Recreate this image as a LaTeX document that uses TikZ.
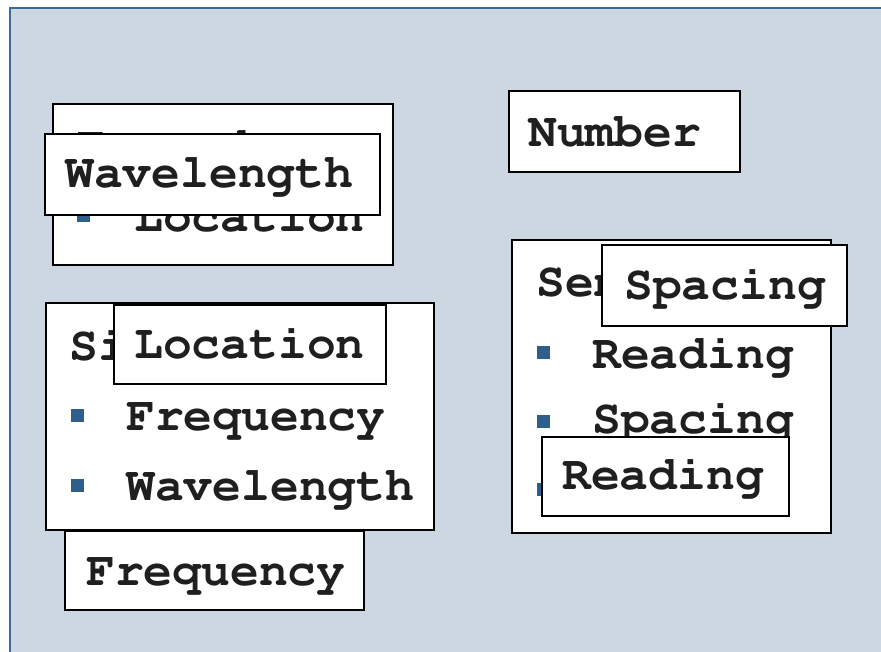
\documentclass[tikz,border=0pt]{standalone}
\usepackage[T1]{fontenc}
\usepackage{courier}
\definecolor{panel}{HTML}{CDD7E1}
\definecolor{framecol}{HTML}{3C6A9C}
\definecolor{bulletblue}{HTML}{2E5E8C}
\newcommand\cardfont{\fontsize{48}{57}\ttfamily\bfseries\selectfont}
\begin{document}
\begin{tikzpicture}[x=1pt,y=-1pt,
  card/.style={draw=black,line width=1.5pt,fill=white,inner sep=0pt,outer sep=0pt,anchor=north west},
  txt/.style={anchor=base west,inner sep=0pt,font=\cardfont,text=black!88},
  bul/.style={fill=bulletblue,draw=none,inner sep=0pt,outer sep=0pt,anchor=north west,minimum width=12.5pt,minimum height=12.5pt}]
\useasboundingbox (0,0) rectangle (881,652);
\fill[white] (0,0) rectangle (881,652);
\fill[panel] (9.5,8) rectangle (881,652);
\draw[framecol,line width=2pt] (9.5,652) -- (9.5,8) -- (881,8);

% upper left list
\node[card,minimum width=340pt,minimum height=161pt] (boxA) at (53,104) {};
\node[txt] (titleA) at (76,161) {Toward};
\node[bul] (bA1) at (77,210) {};
\node[txt] (itemA1) at (134,232) {Location};
\node[card,minimum width=335pt,minimum height=81pt] (lblWave) at (45,134) {};
\node[txt] (tWave) at (65,188) {Wavelength};

% lower left list
\node[card,minimum width=388pt,minimum height=227pt] (boxB) at (46,303) {};
\node[txt] (titleB) at (69,360) {Signal};
\node[bul] (bB1) at (71,409) {};
\node[bul] (bB2) at (71,479) {};
\node[txt] (itemB1) at (126,430) {Frequency};
\node[txt] (itemB2) at (126,500) {Wavelength};
\node[card,minimum width=272pt,minimum height=79pt] (lblLoc) at (114,305) {};
\node[txt] (tLoc) at (134,359) {Location};
\node[card,minimum width=299pt,minimum height=79pt] (lblFreq) at (65,531) {};
\node[txt] (tFreq) at (86,585) {Frequency};

% stand-alone label
\node[card,minimum width=231pt,minimum height=81pt] (lblNum) at (509,91) {};
\node[txt] (tNum) at (528,147) {Number};

% right list
\node[card,minimum width=319pt,minimum height=293pt] (boxC) at (512,240) {};
\node[txt] (titleC) at (536,297) {Sensor};
\node[bul] (bC1) at (537,346) {};
\node[bul] (bC2) at (537,415) {};
\node[bul] (bC3) at (537,483) {};
\node[txt] (itemC1) at (592,368) {Reading};
\node[txt] (itemC2) at (592,433) {Spacing};
\node[txt] (itemC3) at (592,500) {Number};
\node[card,minimum width=245pt,minimum height=81pt] (lblSpace) at (602,245) {};
\node[txt] (tSpace) at (624,300) {Spacing};
\node[card,minimum width=247pt,minimum height=79pt] (lblRead) at (542,437) {};
\node[txt] (tRead) at (562,489) {Reading};
\end{tikzpicture}
\end{document}
